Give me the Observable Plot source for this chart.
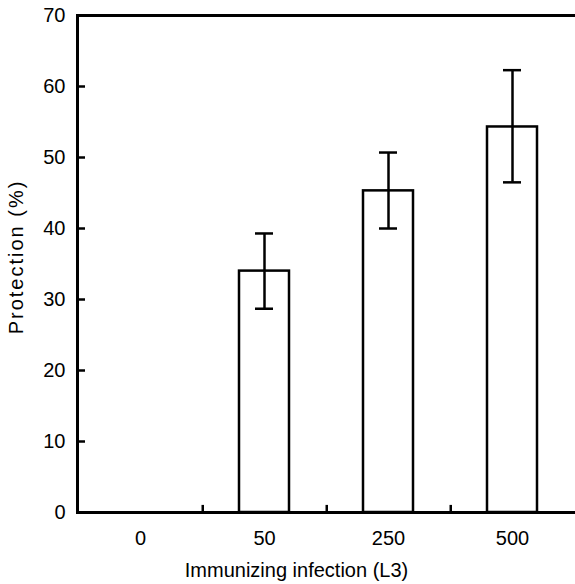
<!DOCTYPE html>
<html><head><meta charset="utf-8">
<script src="https://cdn.jsdelivr.net/npm/d3@7"></script>
<script src="https://cdn.jsdelivr.net/npm/@observablehq/plot@0.6"></script>
<style>body{margin:0;background:#fff} svg{font-family:"Liberation Sans",Arial,sans-serif}</style>
</head><body><div id="chart"></div><script>
const categories = ["0", "50", "250", "500"];
const protection = [0, 34, 45.3, 54.3];
const errLow = [0, 28.7, 40, 46.5];
const errHigh = [0, 39.3, 50.7, 62.3];
const yTicks = [0, 10, 20, 30, 40, 50, 60, 70];
const xTitle = "Immunizing infection (L3)";
const yTitle = "Protection (%)";

const data = categories.map((c, i) => ({cat: c, value: protection[i], lo: errLow[i], hi: errHigh[i]}));
const errData = data.filter(d => d.hi > d.lo);
const W = 575, H = 584, mL = 77, mR = 0, mT = 15, mB = 72;
const step = (W - mL - mR) / categories.length;

const plot = Plot.plot({
  width: W, height: H,
  marginLeft: mL, marginRight: mR, marginTop: mT, marginBottom: mB,
  style: {fontSize: "20px", fontFamily: "'Liberation Sans', Arial, sans-serif", background: "white", color: "black"},
  x: {domain: categories, paddingInner: 0.6, paddingOuter: 0.3, label: null},
  y: {domain: [0, 70], label: null},
  marks: [
    Plot.barY(data, {x: "cat", y: "value", fill: "white", stroke: "black", strokeWidth: 2.5}),
    Plot.ruleX(errData, {x: "cat", y1: "lo", y2: "hi", stroke: "black", strokeWidth: 2.5}),
    Plot.tickY(errData, {x: "cat", y: "lo", stroke: "black", strokeWidth: 2.5, inset: 16}),
    Plot.tickY(errData, {x: "cat", y: "hi", stroke: "black", strokeWidth: 2.5, inset: 16}),
    Plot.ruleX(categories.slice(0, -1), {x: d => d, y1: 0, y2: 1, dx: step / 2, stroke: "black", strokeWidth: 2.5}),
    Plot.ruleY([0, 70], {stroke: "black", strokeWidth: 3}),
    Plot.frame({anchor: "left", stroke: "black", strokeWidth: 3}),
    Plot.axisY({ticks: yTicks, tickSize: -8, tickPadding: 20, strokeWidth: 2.5, label: null, fontSize: 20}),
    Plot.axisX({tickSize: 0, tickPadding: 18, label: null, fontSize: 20}),
    Plot.text([xTitle], {text: d => d, frameAnchor: "bottom", textAnchor: "middle", lineAnchor: "middle", dx: -30, dy: 58, fontSize: 20}),
    Plot.text([yTitle], {text: d => d, frameAnchor: "left", textAnchor: "middle", lineAnchor: "middle", rotate: -90, dx: -61, dy: -7, fontSize: 20})
  ]
});
plot.querySelectorAll("text").forEach(t => {
  if (t.textContent === yTitle) t.setAttribute("letter-spacing", "2px");
});
document.getElementById("chart").appendChild(plot);
</script></body></html>
